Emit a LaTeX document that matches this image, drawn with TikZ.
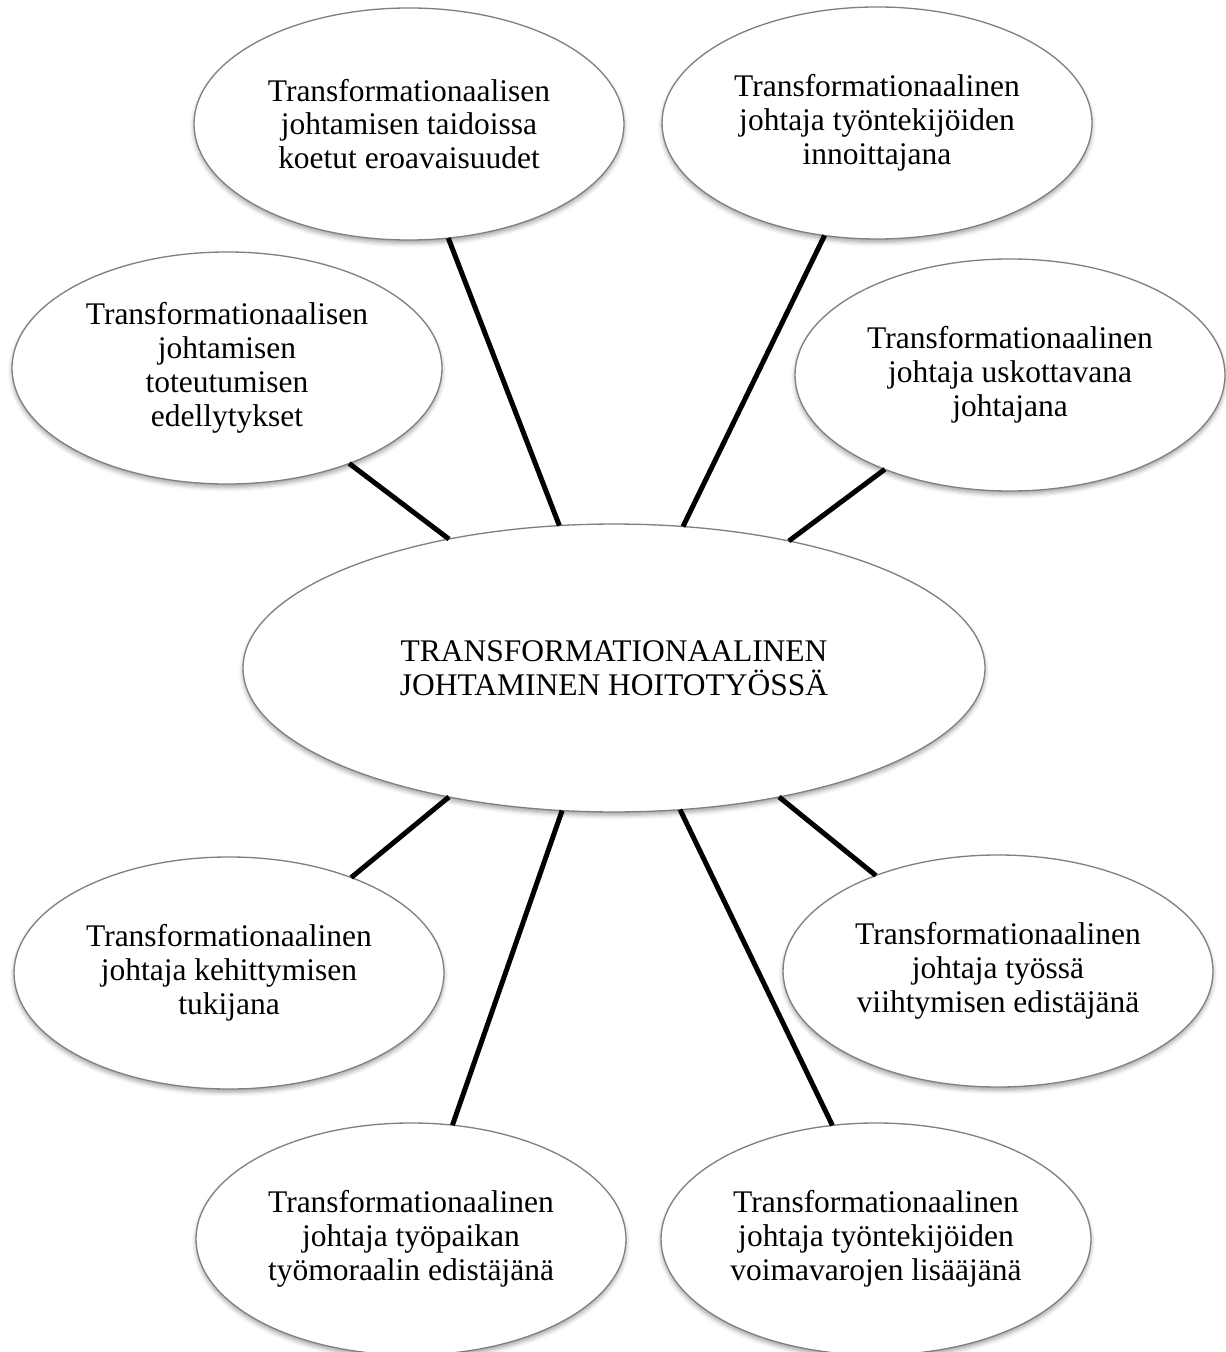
\documentclass[tikz,border=0pt]{standalone}
\usepackage{fontspec}
\setmainfont{Liberation Serif}
\usetikzlibrary{shapes.geometric,shadows.blur}
\begin{document}
\begin{tikzpicture}[x=0.381pt,y=-0.381pt,
  bubble/.style={ellipse, draw=black!50, line width=0.5pt, fill=white,
    inner sep=0pt, outer sep=0pt, align=center,
    font=\fontsize{12}{12.9}\selectfont,
    blur shadow={shadow xshift=0pt, shadow yshift=-1.3pt,
      shadow blur radius=1.6pt, shadow opacity=35}},
  topic/.style={bubble, minimum width=163.8pt, minimum height=88.4pt},
  hub/.style={bubble, minimum width=282.7pt, minimum height=109.7pt},
  link/.style={line width=1.9pt}]
\useasboundingbox (0,0) rectangle (1225,1352);

% central theme
\node[hub] (hub) at (614,668) {TRANSFORMATIONAALINEN\\JOHTAMINEN HOITOTYÖSSÄ};

% surrounding themes
\node[topic] (skills) at (409,124) {Transformationaalisen\\johtamisen taidoissa\\koetut eroavaisuudet};
\node[topic] (inspire) at (877,123) {Transformationaalinen\\johtaja työntekijöiden\\innoittajana};
\node[topic] (precond) at (227,368) {Transformationaalisen\\johtamisen\\toteutumisen\\edellytykset};
\node[topic] (credible) at (1010,375) {Transformationaalinen\\johtaja uskottavana\\johtajana};
\node[topic] (develop) at (229,973) {Transformationaalinen\\johtaja kehittymisen\\tukijana};
\node[topic] (wellbeing) at (998,971) {Transformationaalinen\\johtaja työssä\\viihtymisen edistäjänä};
\node[topic] (morale) at (411,1239) {Transformationaalinen\\johtaja työpaikan\\työmoraalin edistäjänä};
\node[topic] (resources) at (876,1239) {Transformationaalinen\\johtaja työntekijöiden\\voimavarojen lisääjänä};

% spokes
\draw[link] (hub.142) -- (precond.322);
\draw[link] (hub.111) -- (skills.289);
\draw[link] (hub.64) -- (inspire.245);
\draw[link] (hub.36) -- (credible.217);
\draw[link] (hub.218) -- (develop.38);
\draw[link] (hub.250) -- (morale.70);
\draw[link] (hub.295) -- (resources.111);
\draw[link] (hub.322) -- (wellbeing.142);
\end{tikzpicture}
\end{document}
